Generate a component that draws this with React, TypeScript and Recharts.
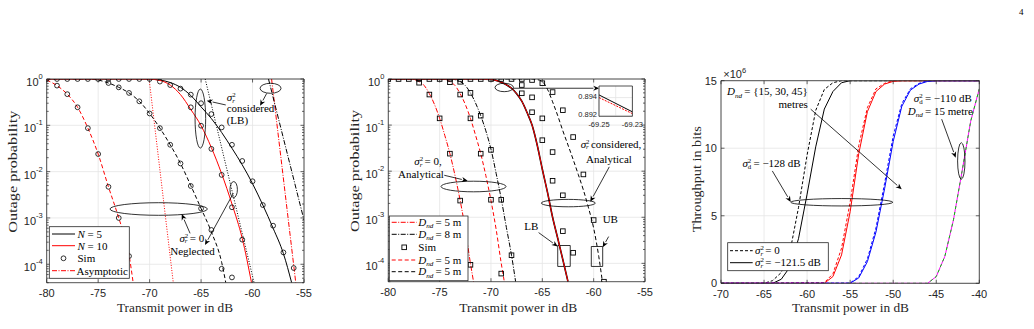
import React from 'react';
import {
  LineChart, Line, XAxis, YAxis, CartesianGrid,
  ReferenceLine, ReferenceDot, ReferenceArea,
} from 'recharts';

// ---------- panel 1: outage vs transmit power, N = 5 / 10 ----------
const P1_N10_CONS = [[-80, 1], [-72, 1], [-71, 0.998], [-70, 0.99], [-69, 0.93], [-68, 0.74], [-67, 0.46], [-66, 0.22], [-65, 0.098], [-64, 0.033], [-63, 0.009], [-62, 0.002], [-61, 3.6e-4], [-60.1, 4e-5]];
const P1_N5_CONS = [[-80, 1], [-72, 1], [-71, 0.998], [-70, 0.99], [-69, 0.95], [-68, 0.84], [-67, 0.66], [-66, 0.44], [-65, 0.25], [-64, 0.14], [-63, 0.07], [-62, 0.032], [-61, 0.014], [-60, 0.0055], [-59, 0.0019], [-58, 6e-4], [-57, 1.7e-4], [-56.2, 4e-5]];
const P1_N5_NEG = [[-80, 1], [-76, 0.995], [-75, 0.95], [-74, 0.82], [-73, 0.66], [-72, 0.5], [-71, 0.33], [-70, 0.18], [-69, 0.087], [-68, 0.038], [-67, 0.015], [-66, 0.005], [-65, 0.0016], [-64, 5e-4], [-63, 1.1e-4], [-62.6, 4e-5]];
const P1_N10_NEG = [[-80, 0.95], [-79, 0.72], [-78, 0.47], [-77, 0.245], [-76, 0.087], [-75, 0.024], [-74, 0.0047], [-73, 0.001], [-72, 1.6e-4], [-71.6, 4e-5]];
const P1_ASYM_R1 = [[-70.05, 1], [-67.7, 4e-5]];
const P1_ASYM_K1 = [[-64.6, 1], [-59.85, 4e-5]];
const P1_ASYM_R2 = [[-58.15, 1], [-55.8, 4e-5]];
const P1_ASYM_K2 = [[-58.45, 1], [-55, 9e-4]];
const P1_SIM_TOP = [[-80, 1], [-79, 1], [-78, 1], [-77, 1], [-76, 1], [-75, 1], [-74, 1], [-73, 1], [-72, 1], [-71, 1], [-70, 1]];
const P1_SIM_N10_NEG = [[-79, 0.72], [-78, 0.47], [-77, 0.245], [-76, 0.087], [-75, 0.024], [-74, 0.0047], [-73, 0.001], [-72, 1.5e-4]];
const P1_SIM_N5_NEG = [[-74, 0.82], [-73, 0.66], [-72, 0.5], [-71, 0.33], [-70, 0.18], [-69, 0.087], [-68, 0.038], [-67, 0.015], [-66, 0.0049], [-65, 0.0016], [-64, 5.5e-4], [-63, 8e-5], [-62, 5.2e-5]];
const P1_SIM_N5_CONS = [[-69, 0.88], [-68, 0.74], [-67, 0.62], [-66, 0.46], [-65, 0.3], [-64, 0.175], [-63, 0.09], [-62, 0.038], [-61, 0.017], [-60, 0.0062], [-59, 0.0019], [-58, 6.8e-4], [-57, 1.8e-4], [-56, 8.3e-5]];
const P1_SIM_N10_CONS = [[-66, 0.245], [-65, 0.098], [-64, 0.031], [-63, 0.0085], [-62, 0.0017], [-61, 3.4e-4]];

// ---------- panel 2: outage vs transmit power, D_nd ----------
const P2_A = [[-80, 1], [-78, 0.995], [-77.5, 0.97], [-77, 0.88], [-76.5, 0.72], [-76, 0.48], [-75.5, 0.28], [-75, 0.14], [-74.5, 0.06], [-74, 0.024], [-73.5, 0.008], [-73, 0.0023], [-72.5, 5.5e-4], [-72, 1e-4], [-71.7, 4e-5]];
const P2_B = [[-80, 1], [-75, 0.995], [-74.5, 0.97], [-74, 0.88], [-73.5, 0.72], [-73, 0.48], [-72.5, 0.28], [-72, 0.14], [-71.5, 0.06], [-71, 0.024], [-70.5, 0.008], [-70, 0.0023], [-69.5, 5.5e-4], [-69, 1e-4], [-68.7, 4e-5]];
const P2_C = [[-80, 1], [-74, 0.998], [-73.5, 0.97], [-73, 0.88], [-72.5, 0.72], [-72, 0.5], [-71.5, 0.3], [-71, 0.16], [-70.5, 0.075], [-70, 0.03], [-69.5, 0.009], [-69, 0.0025], [-68.5, 6e-4], [-68, 1.5e-4], [-67.6, 4e-5]];
const P2_D = [[-80, 1], [-71, 0.998], [-70, 0.98], [-69.25, 0.893], [-69, 0.85], [-68.5, 0.75], [-68, 0.63], [-67.5, 0.48], [-67, 0.33], [-66.5, 0.19], [-66, 0.1], [-65.5, 0.037], [-65, 0.011], [-64.5, 0.0035], [-64, 0.001], [-63.5, 3.5e-4], [-63, 1.2e-4], [-62.5, 4e-5]];
const P2_E = [[-80, 1], [-66, 0.998], [-65.5, 0.97], [-65, 0.88], [-64.5, 0.6], [-64, 0.32], [-63.5, 0.16], [-63, 0.075], [-62.5, 0.037], [-62, 0.018], [-61.5, 0.0085], [-61, 0.0039], [-60.5, 0.0016], [-60, 5.8e-4], [-59.5, 1.4e-4], [-59.15, 4e-5]];
const P2_SQ_TOP = [[-80, 1], [-79, 1], [-78, 1], [-77, 1], [-76, 1], [-75, 1], [-74, 1], [-73, 1], [-72, 1], [-71, 1], [-70, 1], [-69, 1], [-68, 1], [-67, 1], [-66, 0.95]];
const P2_SQ_A = [[-77, 0.83], [-76, 0.46], [-75, 0.14], [-74, 0.024], [-73, 0.0023], [-72, 9.3e-5]];
const P2_SQ_B = [[-74, 0.85], [-73, 0.46], [-72, 0.14], [-71, 0.024], [-70, 0.0024], [-69, 6e-5]];
const P2_SQ_C = [[-73, 0.87], [-72, 0.5], [-71, 0.16], [-70, 0.029], [-69, 0.0024], [-68, 1.5e-4]];
const P2_SQ_U = [[-67, 0.74], [-66, 0.4], [-65, 0.14], [-64, 0.026], [-63, 0.003], [-62, 1.7e-4]];
const P2_SQ_L = [[-67, 0.49], [-66, 0.19], [-65, 0.047], [-64, 0.0062], [-63, 5e-4]];
const P2_SQ_E = [[-65, 0.81], [-64, 0.52], [-63, 0.21], [-62, 0.055], [-61, 0.0085], [-60, 8.7e-4], [-59, 4e-5]];
const INSET_K = [[-69.25, 0.8943], [-69.23, 0.8924]];
const INSET_R = [[-69.25, 0.894], [-69.23, 0.8922]];

// ---------- panel 3: throughput (x10^6 bits) ----------
const P3_K_DASH = [[-70, 0], [-65, 0], [-64, 0.2], [-63, 0.8], [-62, 2.3], [-61, 5.6], [-60, 9.5], [-59, 12.8], [-58, 14.35], [-57, 14.85], [-56, 15], [-40, 15]];
const P3_K_SOLID = [[-70, 0], [-64, 0], [-63, 0.3], [-62, 1.2], [-61, 3.3], [-60, 6.6], [-59, 10.1], [-58, 12.9], [-57, 14.2], [-56, 14.85], [-55, 15], [-40, 15]];
const P3_R_DASH = [[-70, 0], [-58, 0.05], [-57, 0.7], [-56, 2.6], [-55, 6.0], [-54, 10.2], [-53, 13.0], [-52, 14.4], [-51, 14.8], [-50, 15], [-40, 15]];
const P3_R_SOLID = [[-70, 0], [-58, 0], [-57, 0.5], [-56, 2.1], [-55, 5.3], [-54, 9.6], [-53, 12.7], [-52, 14.2], [-51, 14.75], [-50, 14.95], [-49, 15], [-40, 15]];
const P3_B_DASH = [[-70, 0], [-55, 0.02], [-54, 0.5], [-53, 1.8], [-52, 4.1], [-51, 7.4], [-50, 10.9], [-49, 13.3], [-48, 14.4], [-47, 14.8], [-46, 15], [-40, 15]];
const P3_B_SOLID = [[-70, 0], [-55, 0], [-54, 0.4], [-53, 1.6], [-52, 3.8], [-51, 7.0], [-50, 10.5], [-49, 13.1], [-48, 14.3], [-47, 14.75], [-46, 14.95], [-45, 15], [-40, 15]];
const P3_M_SOLID = [[-70, 0], [-46, 0], [-45, 0.5], [-44, 2.0], [-43, 4.7], [-42, 8.3], [-41, 12.0], [-40, 14.4]];
const P3_G_DASH = [[-70, 0], [-46, 0], [-45, 0.5], [-44, 2.0], [-43, 4.7], [-42, 8.3], [-41, 12.0], [-40, 14.4]];

// ---------- ticks ----------
const X_TICKS_OUT = [-80, -75, -70, -65, -60, -55];
const X_TICKS_TP = [-70, -65, -60, -55, -50, -45, -40];
const LOG_MAJOR = [1e-4, 1e-3, 1e-2, 1e-1, 1];
const LOG_TICKS = [-5, -4, -3, -2, -1]
  .flatMap((e) => [1, 2, 3, 4, 5, 6, 7, 8, 9].map((k) => k * Math.pow(10, e)))
  .filter((v) => v >= 4e-5)
  .concat([1]);
const TP_TICKS = [0, 5, 10, 15];
const INSET_X_TICKS = [-69.25, -69.24, -69.23];
const INSET_Y_TICKS = [0.892, 0.894];

const AX = '#262626';
const GRID = '#e4e4e4';
const SANS = '"Liberation Sans", Arial, Helvetica, sans-serif';
const SERIF = '"Liberation Serif", "Times New Roman", serif';
const DASH = '4 2.5';
const DOT = '1 1.6';
const DASHDOT = '5 1.5 1 1.5';

const pts = (rows: number[][]) => rows.map(([x, y]) => ({ x, y }));
const isDecade = (v: number) => Math.abs(Math.log10(v) - Math.round(Math.log10(v))) < 1e-6;

// ---------- tick renderers (MATLAB style: ticks inside the box) ----------
const LogLeftTick = ({ x, y, payload }: any) => {
  const v = payload.value;
  const major = isDecade(v);
  const e = Math.round(Math.log10(v));
  return (
    <g>
      <line x1={x} y1={y} x2={x + (major ? 3.5 : 2)} y2={y} stroke={AX} strokeWidth={0.7} />
      {major && (
        <text x={x - 4} y={y + 7} textAnchor="end" fontFamily={SANS} fontSize={11} fill={AX}>
          10<tspan fontSize={7.5} dy={-7}>{e === 0 ? '0' : `-${-e}`}</tspan>
        </text>
      )}
    </g>
  );
};
const LogRightTick = ({ x, y, payload }: any) => (
  <line x1={x} y1={y} x2={x - (isDecade(payload.value) ? 3.5 : 2)} y2={y} stroke={AX} strokeWidth={0.7} />
);
const LinLeftTick = ({ x, y, payload }: any) => (
  <g>
    <line x1={x} y1={y} x2={x + 3.5} y2={y} stroke={AX} strokeWidth={0.7} />
    <text x={x - 4} y={y + 4} textAnchor="end" fontFamily={SANS} fontSize={11} fill={AX}>{payload.value}</text>
  </g>
);
const LinRightTick = ({ x, y }: any) => <line x1={x} y1={y} x2={x - 3.5} y2={y} stroke={AX} strokeWidth={0.7} />;
const BottomTick = ({ x, y, payload }: any) => (
  <g>
    <line x1={x} y1={y} x2={x} y2={y - 3.5} stroke={AX} strokeWidth={0.7} />
    <text x={x} y={y + 14.5} textAnchor="middle" fontFamily={SANS} fontSize={11} fill={AX}>{payload.value}</text>
  </g>
);
const TopTick = ({ x, y }: any) => <line x1={x} y1={y} x2={x} y2={y + 3.5} stroke={AX} strokeWidth={0.7} />;
const InsetYTick = ({ x, y, payload }: any) => (
  <text x={x - 2} y={y + 1.5} textAnchor="end" fontFamily={SANS} fontSize={7.5} fill={AX}>{payload.value.toFixed(3)}</text>
);
const InsetXTick = ({ x, y, payload }: any) =>
  Math.abs(payload.value + 69.24) < 1e-6 ? null : (
    <text x={x} y={y + 11} textAnchor="middle" fontFamily={SANS} fontSize={7.5} fill={AX}>{payload.value.toFixed(2)}</text>
  );

// ---------- markers & annotation shapes ----------
const Ring = (p: any) => (p.cx == null ? null : <circle cx={p.cx} cy={p.cy} r={2.4} fill="none" stroke="#000" strokeWidth={0.8} />);
const Box = (p: any) => (p.cx == null ? null : <rect x={p.cx - 2.3} y={p.cy - 2.3} width={4.6} height={4.6} fill="none" stroke="#000" strokeWidth={0.9} />);
const ellipse = (rx: number, ry: number) => (p: any) => (
  <ellipse cx={p.cx} cy={p.cy} rx={rx} ry={ry} fill="none" stroke="#000" strokeWidth={0.8} />
);
const Arrow = (p: any) => {
  const { x1, y1, x2, y2 } = p;
  const a = Math.atan2(y2 - y1, x2 - x1);
  const L = 6;
  const W = 2.6;
  const bx = x2 - L * Math.cos(a);
  const by = y2 - L * Math.sin(a);
  const px = -Math.sin(a) * W;
  const py = Math.cos(a) * W;
  return (
    <g>
      <line x1={x1} y1={y1} x2={bx} y2={by} stroke="#000" strokeWidth={0.8} />
      <polygon points={`${x2},${y2} ${bx + px},${by + py} ${bx + 0.3 * (x2 - bx)},${by + 0.3 * (y2 - by)} ${bx - px},${by - py}`} fill="#000" />
    </g>
  );
};
const note = (content: React.ReactNode, anchor: 'start' | 'middle' = 'middle') => (p: any) => (
  <text x={p.cx} y={p.cy} textAnchor={anchor} fontFamily={SERIF} fontSize={11} fill="#000">{content}</text>
);

// sigma with stacked ^2 and subscript, like LaTeX
const Sig = ({ sub, fs = 11 }: { sub: string; fs?: number }) => (
  <>
    <tspan fontStyle="italic">σ</tspan>
    <tspan fontSize={fs * 0.62} dy={-fs * 0.36}>2</tspan>
    <tspan fontSize={fs * 0.62} fontStyle={sub === 'r' ? 'italic' : 'normal'} dx={-fs * 0.31} dy={fs * 0.52}>{sub}</tspan>
    <tspan dy={-fs * 0.16}>{'\u2009'}</tspan>
  </>
);
const Dnd = ({ fs = 11 }: { fs?: number }) => (
  <>
    <tspan fontStyle="italic">D</tspan>
    <tspan fontSize={fs * 0.65} fontStyle="italic" dy={fs * 0.2}>nd</tspan>
    <tspan dy={-fs * 0.2}>{'\u2009'}</tspan>
  </>
);

const axisLine = { stroke: AX, strokeWidth: 0.8 };

// axes are 1px wide/high so that Recharts draws them; margins are reduced by 1 to compensate
const frame = (xDomain: number[], xTicks: number[], log: boolean) => {
  const yDomain = log ? [4e-5, 1] : [0, 15];
  const yTicks = log ? LOG_TICKS : TP_TICKS;
  return [
    <CartesianGrid key="g" stroke={GRID} strokeWidth={0.8} verticalValues={xTicks} horizontalValues={log ? LOG_MAJOR : TP_TICKS} />,
    <XAxis key="xb" type="number" dataKey="x" domain={xDomain} ticks={xTicks} interval={0} allowDataOverflow height={1} tickSize={0} tickMargin={0} tickLine={false} axisLine={axisLine} tick={<BottomTick />} />,
    <XAxis key="xt" xAxisId="t" orientation="top" type="number" dataKey="x" domain={xDomain} ticks={xTicks} interval={0} allowDataOverflow height={1} tickSize={0} tickMargin={0} tickLine={false} axisLine={axisLine} tick={<TopTick />} />,
    <YAxis key="yl" type="number" scale={log ? 'log' : 'linear'} domain={yDomain} ticks={yTicks} interval={0} allowDataOverflow width={1} tickSize={0} tickMargin={0} tickLine={false} axisLine={axisLine} tick={log ? <LogLeftTick /> : <LinLeftTick />} />,
    <YAxis key="yr" yAxisId="r" orientation="right" type="number" scale={log ? 'log' : 'linear'} domain={yDomain} ticks={yTicks} interval={0} allowDataOverflow width={1} tickSize={0} tickMargin={0} tickLine={false} axisLine={axisLine} tick={log ? <LogRightTick /> : <LinRightTick />} />,
  ];
};

const curve = (key: string, rows: number[][], color: string, dash?: string, kind: 'monotoneX' | 'linear' = 'monotoneX', w = 1) => (
  <Line key={key} data={pts(rows)} dataKey="y" type={kind} stroke={color} strokeWidth={w} strokeDasharray={dash} dot={false} activeDot={false} isAnimationActive={false} />
);
const markers = (key: string, rows: number[][], shape: React.ReactElement) => (
  <Line key={key} data={pts(rows)} dataKey="y" stroke="none" dot={shape} activeDot={false} isAnimationActive={false} />
);

const Panel1 = () => (
  <div style={{ position: 'absolute', left: 0, top: 0 }}>
    <LineChart width={345} height={329} margin={{ top: 78, right: 40, bottom: 45.3, left: 45.7 }}>
      {frame([-80, -55], X_TICKS_OUT, true)}
      {curve('r1', P1_ASYM_R1, '#ff0000', DOT, 'linear')}
      {curve('k1', P1_ASYM_K1, '#000', DOT, 'linear')}
      {curve('r2', P1_ASYM_R2, '#ff0000', DASHDOT, 'linear')}
      {curve('k2', P1_ASYM_K2, '#000', DASHDOT, 'linear')}
      {curve('n5n', P1_N5_NEG, '#000', DASH)}
      {curve('n10n', P1_N10_NEG, '#ff0000', DASH)}
      {curve('n5c', P1_N5_CONS, '#000')}
      {curve('n10c', P1_N10_CONS, '#ff0000')}
      {markers('s0', P1_SIM_TOP, <Ring />)}
      {markers('s1', P1_SIM_N10_NEG, <Ring />)}
      {markers('s2', P1_SIM_N5_NEG, <Ring />)}
      {markers('s3', P1_SIM_N5_CONS, <Ring />)}
      {markers('s4', P1_SIM_N10_CONS, <Ring />)}
      <ReferenceDot x={-65.07} y={0.14} ifOverflow="visible" shape={ellipse(5.3, 29.5)} />
      <ReferenceDot x={-58.25} y={0.63} ifOverflow="visible" shape={ellipse(10.5, 5)} />
      <ReferenceDot x={-61.83} y={0.0041} ifOverflow="visible" shape={ellipse(3.7, 8)} />
      <ReferenceDot x={-69.12} y={0.00156} ifOverflow="visible" shape={ellipse(48.7, 6.3)} />
      <ReferenceLine segment={[{ x: -62.6, y: 0.275 }, { x: -64.45, y: 0.34 }]} ifOverflow="visible" shape={<Arrow />} />
      <ReferenceLine segment={[{ x: -58.62, y: 0.49 }, { x: -59.27, y: 0.265 }]} ifOverflow="visible" shape={<Arrow />} />
      <ReferenceLine segment={[{ x: -66.07, y: 4.65e-4 }, { x: -66.88, y: 0.00121 }]} ifOverflow="visible" shape={<Arrow />} />
      <ReferenceLine segment={[{ x: -61.87, y: 0.0034 }, { x: -64.62, y: 2.6e-4 }]} ifOverflow="visible" shape={<Arrow />} />
      <ReferenceDot x={-62.51} y={0.33} ifOverflow="visible" shape={note(<Sig sub="r" />, 'start')} />
      <ReferenceDot x={-62.51} y={0.191} ifOverflow="visible" shape={note('considered', 'start')} />
      <ReferenceDot x={-62.51} y={0.107} ifOverflow="visible" shape={note('(LB)', 'start')} />
      <ReferenceDot x={-65.9} y={3.1e-4} ifOverflow="visible" shape={note(<><Sig sub="r" />= 0</>)} />
      <ReferenceDot x={-65.83} y={1.58e-4} ifOverflow="visible" shape={note('Neglected')} />
    </LineChart>
  </div>
);

const Panel2 = () => (
  <div style={{ position: 'absolute', left: 345, top: 0 }}>
    <LineChart width={345} height={329} margin={{ top: 78, right: 44, bottom: 46.3, left: 42.3 }}>
      {frame([-80, -55], X_TICKS_OUT, true)}
      {curve('a', P2_A, '#ff0000', DASHDOT)}
      {curve('b', P2_B, '#ff0000', DASH)}
      {curve('c', P2_C, '#000', DASHDOT)}
      {curve('e', P2_E, '#000', DASH)}
      {curve('dk', P2_D, '#000', undefined, 'monotoneX', 1.6)}
      {curve('dr', P2_D, '#ff0000', undefined, 'monotoneX', 1)}
      {markers('q0', P2_SQ_TOP, <Box />)}
      {markers('qa', P2_SQ_A, <Box />)}
      {markers('qb', P2_SQ_B, <Box />)}
      {markers('qc', P2_SQ_C, <Box />)}
      {markers('qu', P2_SQ_U, <Box />)}
      {markers('ql', P2_SQ_L, <Box />)}
      {markers('qe', P2_SQ_E, <Box />)}
      <ReferenceDot x={-68.71} y={0.655} ifOverflow="visible" shape={ellipse(9.2, 4.2)} />
      <ReferenceLine segment={[{ x: -67.83, y: 0.63 }, { x: -59.45, y: 0.63 }]} ifOverflow="visible" shape={<Arrow />} />
      <ReferenceDot x={-71.7} y={0.00465} ifOverflow="visible" shape={ellipse(32.5, 5.3)} />
      <ReferenceLine segment={[{ x: -74.55, y: 0.00815 }, { x: -72.27, y: 0.00617 }]} ifOverflow="visible" shape={<Arrow />} />
      <ReferenceDot x={-62.47} y={0.00203} ifOverflow="visible" shape={ellipse(27, 3.7)} />
      <ReferenceLine segment={[{ x: -58.48, y: 0.0124 }, { x: -60.33, y: 0.00217 }]} ifOverflow="visible" shape={<Arrow />} />
      <ReferenceArea x1={-63.5} x2={-62.28} y1={8.57e-5} y2={2.44e-4} fill="none" stroke="#000" strokeWidth={0.8} ifOverflow="visible" />
      <ReferenceArea x1={-60.23} x2={-59.12} y1={8.57e-5} y2={2.32e-4} fill="none" stroke="#000" strokeWidth={0.8} ifOverflow="visible" />
      <ReferenceLine segment={[{ x: -65.36, y: 4.65e-4 }, { x: -63.5, y: 2.32e-4 }]} ifOverflow="visible" shape={<Arrow />} />
      <ReferenceLine segment={[{ x: -58.54, y: 3.81e-4 }, { x: -59.12, y: 2.24e-4 }]} ifOverflow="visible" shape={<Arrow />} />
      <ReferenceDot x={-76.13} y={0.0135} ifOverflow="visible" shape={note(<><Sig sub="r" />= 0,</>)} />
      <ReferenceDot x={-76.82} y={0.0072} ifOverflow="visible" shape={note('Analytical')} />
      <ReferenceDot x={-58.31} y={0.0325} ifOverflow="visible" shape={note(<><Sig sub="r" />considered,</>)} />
      <ReferenceDot x={-58.51} y={0.0152} ifOverflow="visible" shape={note('Analytical')} />
      <ReferenceDot x={-66.08} y={5.3e-4} ifOverflow="visible" shape={note('LB')} />
      <ReferenceDot x={-58.38} y={7.6e-4} ifOverflow="visible" shape={note('UB')} />
    </LineChart>
  </div>
);

const Inset = () => (
  <div style={{ position: 'absolute', left: 569.3, top: 85.2 }}>
    <LineChart width={93.4} height={45.3} margin={{ top: 0, right: 29, bottom: 13, left: 29 }}>
      <CartesianGrid stroke={GRID} strokeWidth={0.8} fill="#fff" verticalValues={INSET_X_TICKS} horizontalValues={INSET_Y_TICKS} />
      <XAxis type="number" dataKey="x" domain={[-69.25, -69.23]} ticks={INSET_X_TICKS} interval={0} allowDataOverflow height={1} tickSize={0} tickMargin={0} tickLine={false} axisLine={axisLine} tick={<InsetXTick />} />
      <XAxis xAxisId="t" orientation="top" type="number" dataKey="x" domain={[-69.25, -69.23]} allowDataOverflow height={1} tick={false} tickLine={false} axisLine={axisLine} />
      <YAxis type="number" domain={[0.8919, 0.8953]} ticks={INSET_Y_TICKS} interval={0} allowDataOverflow width={1} tickSize={0} tickMargin={0} tickLine={false} axisLine={axisLine} tick={<InsetYTick />} />
      <YAxis yAxisId="r" orientation="right" type="number" domain={[0.8919, 0.8953]} allowDataOverflow width={1} tick={false} tickLine={false} axisLine={axisLine} />
      {curve('ik', INSET_K, '#000', undefined, 'linear')}
      {curve('ir', INSET_R, '#ff0000', '2 1.2', 'linear')}
    </LineChart>
  </div>
);

const Panel3 = () => (
  <div style={{ position: 'absolute', left: 690, top: 0 }}>
    <LineChart width={344} height={329} margin={{ top: 79.7, right: 53.7, bottom: 44.7, left: 30 }}>
      {frame([-70, -40], X_TICKS_TP, false)}
      {curve('kd', P3_K_DASH, '#000', '3 2', 'linear')}
      {curve('ks', P3_K_SOLID, '#000', undefined, 'linear')}
      {curve('rs', P3_R_SOLID, '#ff0000', undefined, 'linear')}
      {curve('rd', P3_R_DASH, '#ff0000', '3 2', 'linear')}
      {curve('bs', P3_B_SOLID, '#0000ff', undefined, 'linear')}
      {curve('bd', P3_B_DASH, '#0000ff', '3 2', 'linear')}
      {curve('ms', P3_M_SOLID, '#ff00ff', undefined, 'linear')}
      {curve('gd', P3_G_DASH, '#00c800', '3 3', 'linear')}
      <ReferenceDot x={-69.3} y={13.91} ifOverflow="visible" shape={note(<><Dnd />= {'{'}15, 30, 45{'}'}</>, 'start')} />
      <ReferenceDot x={-61.61} y={13.0} ifOverflow="visible" shape={note('metres')} />
      <ReferenceLine segment={[{ x: -59.58, y: 12.89 }, { x: -49.01, y: 6.96 }]} ifOverflow="visible" shape={<Arrow />} />
      <ReferenceDot x={-64.13} y={8.58} ifOverflow="visible" shape={note(<><Sig sub="d" />= −128 dB</>)} />
      <ReferenceLine segment={[{ x: -64.04, y: 8.32 }, { x: -61.9, y: 6.02 }]} ifOverflow="visible" shape={<Arrow />} />
      <ReferenceDot x={-55.97} y={6.0} ifOverflow="visible" shape={ellipse(51, 3.7)} />
      <ReferenceDot x={-44.24} y={13.4} ifOverflow="visible" shape={note(<><Sig sub="d" />= −110 dB</>)} />
      <ReferenceDot x={-44.53} y={12.45} ifOverflow="visible" shape={note(<><Dnd />= 15 metre</>)} />
      <ReferenceLine segment={[{ x: -44.37, y: 12.15 }, { x: -42.74, y: 9.3 }]} ifOverflow="visible" shape={<Arrow />} />
      <ReferenceDot x={-42.09} y={9.06} ifOverflow="visible" shape={ellipse(3.7, 18.3)} />
    </LineChart>
  </div>
);

// ---------- static text & legends ----------
const LegendLine = ({ y, color, dash, x1, x2 }: { y: number; color: string; dash?: string; x1: number; x2: number }) => (
  <line x1={x1} x2={x2} y1={y} y2={y} stroke={color} strokeWidth={1} strokeDasharray={dash} />
);

const Overlay = () => (
  <svg width={1034} height={329} style={{ position: 'absolute', left: 0, top: 0, pointerEvents: 'none' }} fontFamily={SERIF}>
    <text x={1019} y={15} fontSize={9} fill="#000">4</text>

    <text x={175} y={312} textAnchor="middle" fontSize={13} fill={AX} textLength={116} lengthAdjust="spacingAndGlyphs">Transmit power in dB</text>
    <text x={518.3} y={312} textAnchor="middle" fontSize={13} fill={AX} textLength={118} lengthAdjust="spacingAndGlyphs">Transmit power in dB</text>
    <text x={850.5} y={312} textAnchor="middle" fontSize={13} fill={AX} textLength={117} lengthAdjust="spacingAndGlyphs">Transmit power in dB</text>
    <text transform="translate(16.5,171.7) rotate(-90)" textAnchor="middle" fontSize={13} fill={AX} textLength={122} lengthAdjust="spacingAndGlyphs">Outage probability</text>
    <text transform="translate(359,171) rotate(-90)" textAnchor="middle" fontSize={13} fill={AX} textLength={122} lengthAdjust="spacingAndGlyphs">Outage probability</text>
    <text transform="translate(700.5,179.3) rotate(-90)" textAnchor="middle" fontSize={13} fill={AX} textLength={106} lengthAdjust="spacingAndGlyphs">Throughput in bits</text>
    <text x={723.3} y={78} fontFamily={SANS} fontSize={11} fill={AX}>×10<tspan fontSize={7.5} dy={-5.5}>6</tspan></text>

    {/* panel 1 legend */}
    <rect x={49.3} y={226.7} width={80} height={51.6} fill="#fff" stroke={AX} strokeWidth={0.8} />
    <LegendLine x1={52} x2={75} y={234} color="#000" />
    <text x={77.5} y={237.8} fontSize={11}><tspan fontStyle="italic">N</tspan> = 5</text>
    <LegendLine x1={52} x2={75} y={245.7} color="#ff0000" />
    <text x={77.5} y={249.5} fontSize={11}><tspan fontStyle="italic">N</tspan> = 10</text>
    <circle cx={63.5} cy={258.3} r={2.4} fill="none" stroke="#000" strokeWidth={0.8} />
    <text x={77.5} y={262.1} fontSize={11}>Sim</text>
    <LegendLine x1={52} x2={75} y={270.7} color="#ff0000" dash={DASHDOT} />
    <text x={76.5} y={274.5} fontSize={11}>Asymptotic</text>

    {/* panel 2 legend */}
    <rect x={389.3} y={216} width={78.7} height={64.7} fill="#fff" stroke={AX} strokeWidth={0.8} />
    <LegendLine x1={391.7} x2={416.7} y={222.3} color="#ff0000" dash={DASHDOT} />
    <text x={418.3} y={226} fontSize={11}><Dnd />= 5 m</text>
    <LegendLine x1={391.7} x2={416.7} y={234.3} color="#000" dash={DASHDOT} />
    <text x={418.3} y={238} fontSize={11}><Dnd />= 8 m</text>
    <rect x={401.9} y={245} width={4.6} height={4.6} fill="none" stroke="#000" strokeWidth={0.9} />
    <text x={418.3} y={251} fontSize={11}>Sim</text>
    <LegendLine x1={391.7} x2={416.7} y={260} color="#ff0000" dash={DASH} />
    <text x={418.3} y={263.7} fontSize={11}><Dnd />= 5 m</text>
    <LegendLine x1={391.7} x2={416.7} y={271.7} color="#000" dash={DASH} />
    <text x={418.3} y={275.4} fontSize={11}><Dnd />= 5 m</text>

    {/* panel 3 legend */}
    <rect x={727.7} y={242.7} width={100.6} height={28} fill="#fff" stroke={AX} strokeWidth={0.8} />
    <LegendLine x1={730} x2={752.7} y={250.7} color="#000" dash="3 2" />
    <text x={755} y={254} fontSize={11}><Sig sub="r" />= 0</text>
    <LegendLine x1={730} x2={752.7} y={262.7} color="#000" />
    <text x={755} y={266.4} fontSize={11}><Sig sub="r" />= −121.5 dB</text>
  </svg>
);

export default function App() {
  return (
    <div style={{ position: 'absolute', left: 0, top: 0, width: 1034, height: 329, background: '#fff', overflow: 'hidden' }}>
      <Panel1 />
      <Panel2 />
      <Panel3 />
      <Inset />
      <Overlay />
    </div>
  );
}
